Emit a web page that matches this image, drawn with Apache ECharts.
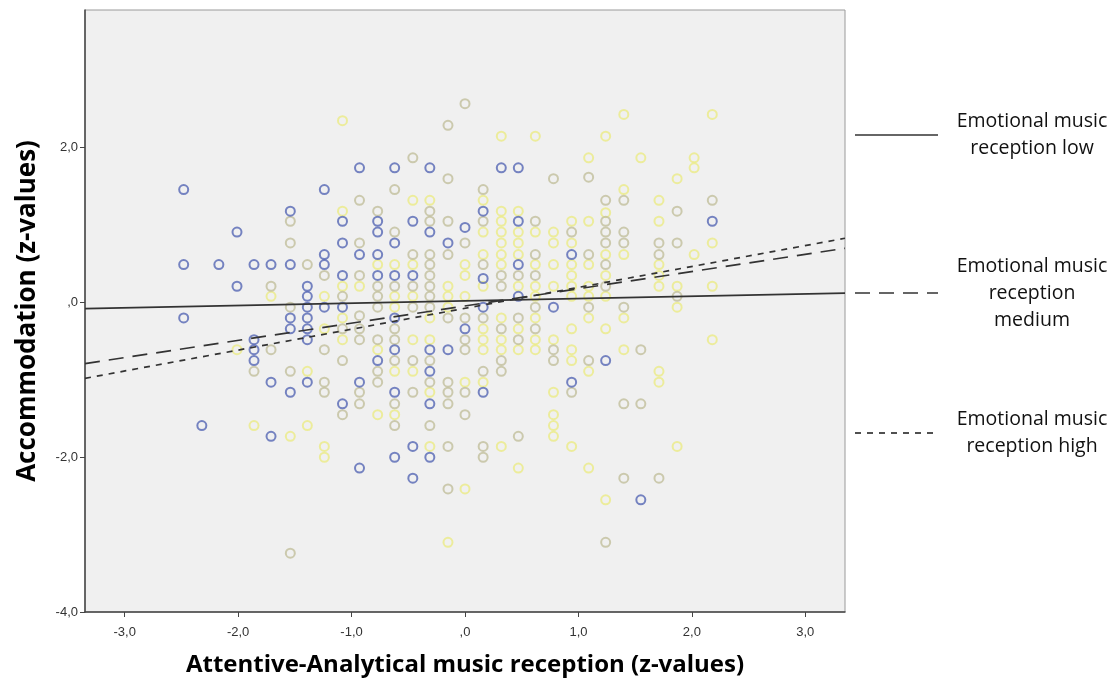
<!DOCTYPE html>
<html><head><meta charset="utf-8">
<script src="https://cdn.jsdelivr.net/npm/echarts@6/dist/echarts.min.js"></script>
<style>html,body{margin:0;padding:0;background:#fff}#c{width:1114px;height:686px}</style>
</head><body><div id="c"></div>
<script>
const xTicks = [-3, -2, -1, 0, 1, 2, 3];
const yTicks = [-4, -2, 0, 2];

const lowPoints = [
[-2.48,1.46],[-2.01,0.91],
[-0.93,1.74],[-0.62,1.74],[-0.31,1.74],[-1.24,1.46],[-1.54,1.18],[-1.08,1.05],[-0.77,1.05],[-0.46,1.05],[-0.77,0.91],[-0.31,0.91],[0.00,0.97],[-1.08,0.77],[-0.62,0.77],[-0.15,0.77],
[0.32,1.74],[0.47,1.74],[0.16,1.18],[0.47,1.05],[2.18,1.05],
[-2.48,0.49],[-2.17,0.49],[-1.86,0.49],[-1.71,0.49],[-2.01,0.21],[-2.48,-0.20],[-1.86,-0.48],[-1.86,-0.61],[-1.86,-0.75],[-1.71,-1.03],
[-1.24,0.62],[-0.93,0.62],[-0.77,0.62],[-1.54,0.49],[-1.24,0.49],
[-1.08,0.35],[-0.77,0.35],[-0.62,0.35],[-0.46,0.35],
[-1.39,0.21],[-1.39,0.08],[-1.39,-0.06],[-1.24,-0.06],[-1.08,-0.06],
[-1.54,-0.20],[-1.39,-0.20],[-0.62,-0.20],
[-1.54,-0.34],[-1.39,-0.34],[0.00,-0.34],[-1.39,-0.48],
[-0.62,-0.61],[-0.31,-0.61],[-0.15,-0.61],[-0.77,-0.75],[-0.31,-0.89],
[-1.39,-1.03],[-0.93,-1.03],[-1.54,-1.16],[-0.62,-1.16],[-1.08,-1.31],[-0.31,-1.31],
[0.94,0.62],[0.47,0.49],[0.16,0.31],[0.47,0.08],[0.16,-0.06],[0.78,-0.06],[1.24,-0.75],[0.94,-1.03],[0.16,-1.16],
[-2.32,-1.59],[-1.71,-1.73],[-0.46,-1.86],[-0.62,-2.00],[-0.31,-2.00],[-0.93,-2.14],[-0.46,-2.27],[1.55,-2.55]
];

const mediumPoints = [
[0.00,2.57],[-0.15,2.29],[-0.46,1.87],[-0.15,1.60],[-0.62,1.46],[-0.93,1.32],[-0.77,1.18],[-0.31,1.18],[-1.54,1.05],[-0.31,1.05],[-0.15,1.05],[-0.62,0.91],[-1.54,0.77],[-0.93,0.77],[0.00,0.77],
[0.78,1.60],[1.09,1.62],[0.16,1.46],[1.24,1.32],[1.40,1.32],[0.16,1.05],[0.62,1.05],[1.24,1.05],[0.94,0.91],[1.24,0.91],[1.40,0.91],[1.24,0.77],[1.40,0.77],[1.71,0.77],
[2.18,1.32],[1.87,1.18],[1.87,0.77],
[-1.71,0.21],[-1.71,-0.61],[-1.86,-0.89],
[-0.46,0.62],[-0.31,0.62],[-0.15,0.62],[-1.39,0.49],[-0.31,0.49],
[-1.24,0.35],[-0.93,0.35],[-0.31,0.35],
[-0.77,0.21],[-0.62,0.21],[-0.46,0.21],[-0.31,0.21],
[-1.08,0.08],[-0.77,0.08],[-0.31,0.08],
[-1.54,-0.06],[-0.77,-0.06],[-0.46,-0.06],[-0.31,-0.06],
[-0.93,-0.17],[-0.15,-0.20],
[-1.08,-0.34],[-0.93,-0.34],[-0.62,-0.34],
[-0.93,-0.48],[-0.77,-0.48],[-0.62,-0.48],
[-1.24,-0.61],
[-1.08,-0.75],[-0.62,-0.75],[-0.46,-0.75],[-0.31,-0.75],
[-1.54,-0.89],[-0.77,-0.89],
[-1.24,-1.03],[-0.77,-1.03],[-0.31,-1.03],[-0.15,-1.03],
[-1.24,-1.16],[-0.93,-1.16],[-0.46,-1.16],[-0.15,-1.16],
[-0.93,-1.31],[-0.62,-1.31],[-0.15,-1.31],
[0.62,0.62],[1.09,0.62],[0.16,0.49],[1.24,0.49],
[0.32,0.35],[0.47,0.35],[0.62,0.35],[0.32,0.21],[1.24,0.21],
[0.62,-0.06],[1.09,-0.06],[1.40,-0.06],
[0.00,-0.20],[0.16,-0.20],[0.47,-0.20],
[0.32,-0.34],[0.62,-0.34],[0.00,-0.48],[0.47,-0.48],
[0.00,-0.61],[0.78,-0.61],[1.55,-0.61],
[0.32,-0.75],[0.78,-0.75],[1.09,-0.75],
[0.16,-0.89],[0.32,-0.89],
[0.00,-1.16],[0.94,-1.16],[1.40,-1.31],[1.55,-1.31],
[1.71,0.62],[1.87,0.08],
[-1.08,-1.45],[0.00,-1.45],[-0.62,-1.59],[-0.31,-1.59],[-0.15,-1.86],[-0.15,-2.41],[-1.54,-3.24],
[0.47,-1.73],[0.16,-1.86],[0.16,-2.00],[1.40,-2.27],[1.71,-2.27],[1.24,-3.10]
];

const highPoints = [
[-1.08,2.35],[-0.46,1.32],[-0.31,1.32],[-1.08,1.18],
[1.40,2.43],[0.32,2.15],[0.62,2.15],[1.24,2.15],[1.09,1.87],[1.55,1.87],[1.40,1.46],[0.16,1.32],[1.71,1.32],[0.32,1.18],[0.47,1.18],[1.24,1.16],[0.32,1.05],[0.94,1.05],[1.09,1.05],[1.71,1.05],[0.16,0.91],[0.32,0.91],[0.47,0.91],[0.62,0.91],[0.78,0.91],[0.32,0.77],[0.47,0.77],[0.78,0.77],[0.94,0.77],
[2.18,2.43],[2.02,1.87],[2.02,1.74],[1.87,1.60],[2.18,0.77],
[-1.71,0.08],[-2.01,-0.61],
[-0.77,0.49],[-0.62,0.49],[-0.46,0.49],[0.00,0.35],
[-1.08,0.21],[-0.93,0.21],[-0.15,0.21],
[-1.24,0.08],[-0.62,0.08],[-0.46,0.08],[-0.15,0.08],
[-0.62,-0.06],[-0.15,-0.06],
[-1.08,-0.20],[-0.31,-0.20],[-1.24,-0.34],
[-1.08,-0.48],[-0.46,-0.48],[-0.31,-0.48],[-0.77,-0.61],
[-1.39,-0.89],[-0.62,-0.89],[-0.46,-0.89],[-0.31,-1.16],
[0.16,0.62],[0.32,0.62],[0.47,0.62],[1.24,0.62],[1.40,0.62],
[0.00,0.49],[0.32,0.49],[0.62,0.49],[0.78,0.49],[0.94,0.49],[1.09,0.49],
[0.94,0.35],[1.24,0.35],
[0.16,0.21],[0.47,0.21],[0.62,0.21],[0.78,0.21],[0.94,0.21],[1.09,0.21],
[0.00,0.08],[0.62,0.08],[0.94,0.08],[1.09,0.08],[1.24,0.08],
[0.32,-0.20],[0.62,-0.20],[1.09,-0.20],[1.40,-0.20],
[0.16,-0.34],[0.47,-0.34],[0.94,-0.34],[1.24,-0.34],
[0.16,-0.48],[0.32,-0.48],[0.62,-0.48],[0.78,-0.48],
[0.16,-0.61],[0.32,-0.61],[0.47,-0.61],[0.62,-0.61],[0.94,-0.61],[1.40,-0.61],
[0.94,-0.75],[1.09,-0.89],[0.00,-1.03],[0.16,-1.03],[0.78,-1.16],
[2.02,0.62],[1.71,0.49],[1.71,0.35],[1.71,0.21],[1.87,0.21],[2.18,0.21],[1.87,-0.06],[2.18,-0.48],[1.71,-0.89],[1.71,-1.03],
[-1.86,-1.59],[-0.77,-1.45],[-0.62,-1.45],[-1.39,-1.59],[-1.54,-1.73],[-1.24,-1.86],[-0.31,-1.86],[-1.24,-2.00],[0.00,-2.41],[-0.15,-3.10],
[0.78,-1.45],[0.78,-1.59],[0.78,-1.73],[0.32,-1.86],[0.94,-1.86],[0.47,-2.14],[1.09,-2.14],[1.24,-2.55],[1.87,-1.86]
];

const lowFit = [[-3.35,-0.08],[3.35,0.12]];
const mediumFit = [[-3.35,-0.79],[3.35,0.70]];
const highFit = [[-3.35,-0.98],[3.35,0.83]];

const legendLabels = ['Emotional music\nreception low', 'Emotional music\nreception\nmedium', 'Emotional music\nreception high'];
const xTitle = 'Attentive-Analytical music reception (z-values)';
const yTitle = 'Accommodation (z-values)';

const fmt = v => (v === 0 ? ',0' : v.toFixed(1).replace('.', ','));
const lineCol = '#333333';
const dashes = [null, [15, 9], [6, 6]];
const legendY = [135, 293, 433];

function scatter(data, col) {
  return { type: 'scatter', data: data, symbol: 'circle', symbolSize: 9,
    itemStyle: { color: 'rgba(0,0,0,0)', borderColor: col, borderWidth: 2 },
    emphasis: { disabled: true }, silent: true };
}
function fit(data, dash) {
  return { type: 'line', data: data, symbol: 'none', silent: true, z: 5,
    lineStyle: { color: lineCol, width: 1.7, type: dash || 'solid' } };
}

const graphics = [];
legendLabels.forEach((t, i) => {
  graphics.push({ type: 'line', shape: { x1: 855, y1: legendY[i], x2: 938, y2: legendY[i] },
    style: { stroke: lineCol, lineWidth: 1.7, lineDash: dashes[i] } });
  graphics.push({ type: 'text', x: 1032, y: legendY[i],
    style: { text: t, align: 'center', verticalAlign: 'middle', font: '19.5px "Open Sans"', fill: '#111', lineHeight: 27 } });
});

const chart = echarts.init(document.getElementById('c'), null, { renderer: 'canvas' });
chart.setOption({
  animation: false,
  backgroundColor: '#ffffff',
  grid: { left: 85, right: 269, top: 10, bottom: 74, show: true, backgroundColor: '#f0f0f0', borderColor: '#9a9a9a', borderWidth: 1 },
  xAxis: {
    type: 'value', min: -3.35, max: 3.35,
    name: xTitle, nameLocation: 'middle', nameGap: 41,
    nameTextStyle: { fontFamily: 'Open Sans', fontWeight: 'bold', fontSize: 24, color: '#000' },
    axisLine: { show: true, onZero: false, lineStyle: { color: '#444', width: 1.5 } },
    axisTick: { show: true, customValues: xTicks, length: 5, lineStyle: { color: '#444' } },
    axisLabel: { customValues: xTicks, formatter: fmt, color: '#333', fontSize: 13, fontFamily: 'Liberation Sans', margin: 14 },
    splitLine: { show: false }
  },
  yAxis: {
    type: 'value', min: -4, max: 3.78,
    name: yTitle, nameLocation: 'middle', nameGap: 44,
    nameTextStyle: { fontFamily: 'Open Sans', fontWeight: 'bold', fontSize: 26, color: '#000' },
    axisLine: { show: true, onZero: false, lineStyle: { color: '#444', width: 1.5 } },
    axisTick: { show: true, customValues: yTicks, length: 5, lineStyle: { color: '#444' } },
    axisLabel: { customValues: yTicks, formatter: fmt, color: '#333', fontSize: 13, fontFamily: 'Liberation Sans', margin: 7 },
    splitLine: { show: false }
  },
  series: [
    scatter(highPoints, '#ebeb86'),
    scatter(mediumPoints, '#c2bf9c'),
    scatter(lowPoints, '#5566b4'),
    fit(lowFit, null),
    fit(mediumFit, [15, 9]),
    fit(highFit, [6, 6])
  ],
  graphic: graphics
});
</script>
</body></html>
